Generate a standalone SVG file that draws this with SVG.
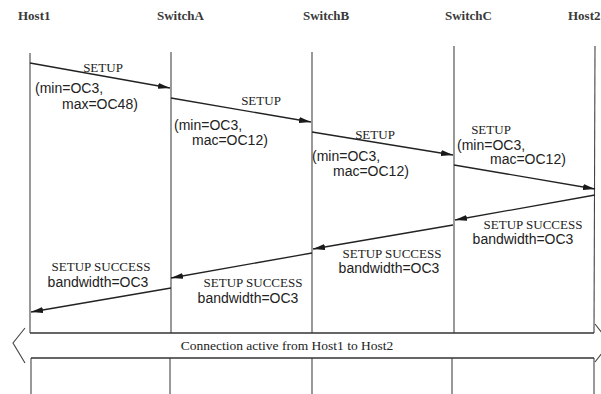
<svg xmlns="http://www.w3.org/2000/svg" width="601" height="394" viewBox="0 0 601 394">
  <defs>
    <marker id="ah" markerUnits="userSpaceOnUse" markerWidth="13" markerHeight="7" refX="12" refY="3" orient="auto">
      <path d="M0,0 L12,3 L0,6 z" fill="#1a1a1a"/>
    </marker>
  </defs>
  <style>
    .hdr { font-family: "Liberation Serif", serif; font-size: 13px; font-weight: bold; fill: #3a3a3a; }
    .lbl { font-family: "Liberation Serif", serif; font-size: 13px; fill: #222; }
    .prm { font-family: "Liberation Sans", sans-serif; font-size: 14px; fill: #222; }
    .life { stroke: #444; stroke-width: 1.1; fill: none; }
    .msg { stroke: #222; stroke-width: 1.3; fill: none; marker-end: url(#ah); }
    .band { stroke: #333; stroke-width: 1.4; fill: none; }
    .band-txt { font-family: "Liberation Serif", serif; font-size: 13.5px; fill: #222; }
  </style>
  <rect width="601" height="394" fill="#ffffff"/>

  <g id="host1">
    <text class="hdr" x="18" y="20">Host1</text>
    <line class="life" x1="30" y1="53" x2="30" y2="333"/>
    <line class="life" x1="31" y1="358" x2="31" y2="394"/>
  </g>
  <g id="switchA">
    <text class="hdr" x="157" y="20">SwitchA</text>
    <line class="life" x1="171" y1="52" x2="171" y2="333"/>
    <line class="life" x1="170" y1="358" x2="170" y2="394"/>
  </g>
  <g id="switchB">
    <text class="hdr" x="303" y="20">SwitchB</text>
    <line class="life" x1="312" y1="52" x2="312" y2="333"/>
    <line class="life" x1="312" y1="358" x2="312" y2="394"/>
  </g>
  <g id="switchC">
    <text class="hdr" x="445" y="20">SwitchC</text>
    <line class="life" x1="454" y1="46" x2="454" y2="333"/>
    <line class="life" x1="452" y1="358" x2="452" y2="394"/>
  </g>
  <g id="host2">
    <text class="hdr" x="568" y="20">Host2</text>
    <line class="life" x1="595" y1="46" x2="594" y2="333"/>
    <line class="life" x1="594" y1="358" x2="594" y2="394"/>
  </g>

  <g id="connectors">
    <g id="m1">
      <line class="msg" x1="30" y1="63" x2="170" y2="88"/>
      <text class="lbl" x="103" y="72" text-anchor="middle">SETUP</text>
      <text class="prm" x="35" y="93">(min=OC3,</text>
      <text class="prm" x="62" y="109">max=OC48)</text>
    </g>
    <g id="m2">
      <line class="msg" x1="171" y1="98" x2="311" y2="122"/>
      <text class="lbl" x="261" y="105" text-anchor="middle">SETUP</text>
      <text class="prm" x="174" y="130">(min=OC3,</text>
      <text class="prm" x="192" y="145">mac=OC12)</text>
    </g>
    <g id="m3">
      <line class="msg" x1="312" y1="132" x2="453" y2="155"/>
      <text class="lbl" x="375" y="139" text-anchor="middle">SETUP</text>
      <text class="prm" x="312" y="161">(min=OC3,</text>
      <text class="prm" x="333" y="176">mac=OC12)</text>
    </g>
    <g id="m4">
      <line class="msg" x1="454" y1="165" x2="595" y2="189"/>
      <text class="lbl" x="491" y="134" text-anchor="middle">SETUP</text>
      <text class="prm" x="457" y="150">(min=OC3,</text>
      <text class="prm" x="490" y="164">mac=OC12)</text>
    </g>
    <g id="m5">
      <line class="msg" x1="595" y1="195" x2="455" y2="220"/>
      <text class="lbl" x="533" y="229" text-anchor="middle">SETUP SUCCESS</text>
      <text class="prm" x="523" y="244" text-anchor="middle">bandwidth=OC3</text>
    </g>
    <g id="m6">
      <line class="msg" x1="453" y1="225" x2="313" y2="249"/>
      <text class="lbl" x="392" y="258" text-anchor="middle">SETUP SUCCESS</text>
      <text class="prm" x="389" y="273" text-anchor="middle">bandwidth=OC3</text>
    </g>
    <g id="m7">
      <line class="msg" x1="312" y1="253" x2="171" y2="278"/>
      <text class="lbl" x="253" y="287" text-anchor="middle">SETUP SUCCESS</text>
      <text class="prm" x="248" y="303" text-anchor="middle">bandwidth=OC3</text>
    </g>
    <g id="m8">
      <line class="msg" x1="171" y1="288" x2="31" y2="312"/>
      <text class="lbl" x="101" y="271" text-anchor="middle">SETUP SUCCESS</text>
      <text class="prm" x="98" y="287" text-anchor="middle">bandwidth=OC3</text>
    </g>
  </g>

  <g id="connection-band">
    <line class="band" x1="30" y1="333" x2="594" y2="333"/>
    <line class="band" x1="31" y1="358" x2="594" y2="358"/>
    <polyline class="life" points="25,328 13,343 25,363"/>
    <polyline class="life" points="595,324 610,343 595,362"/>
    <text class="band-txt" x="287" y="350" text-anchor="middle">Connection active from Host1 to Host2</text>
  </g>
</svg>
